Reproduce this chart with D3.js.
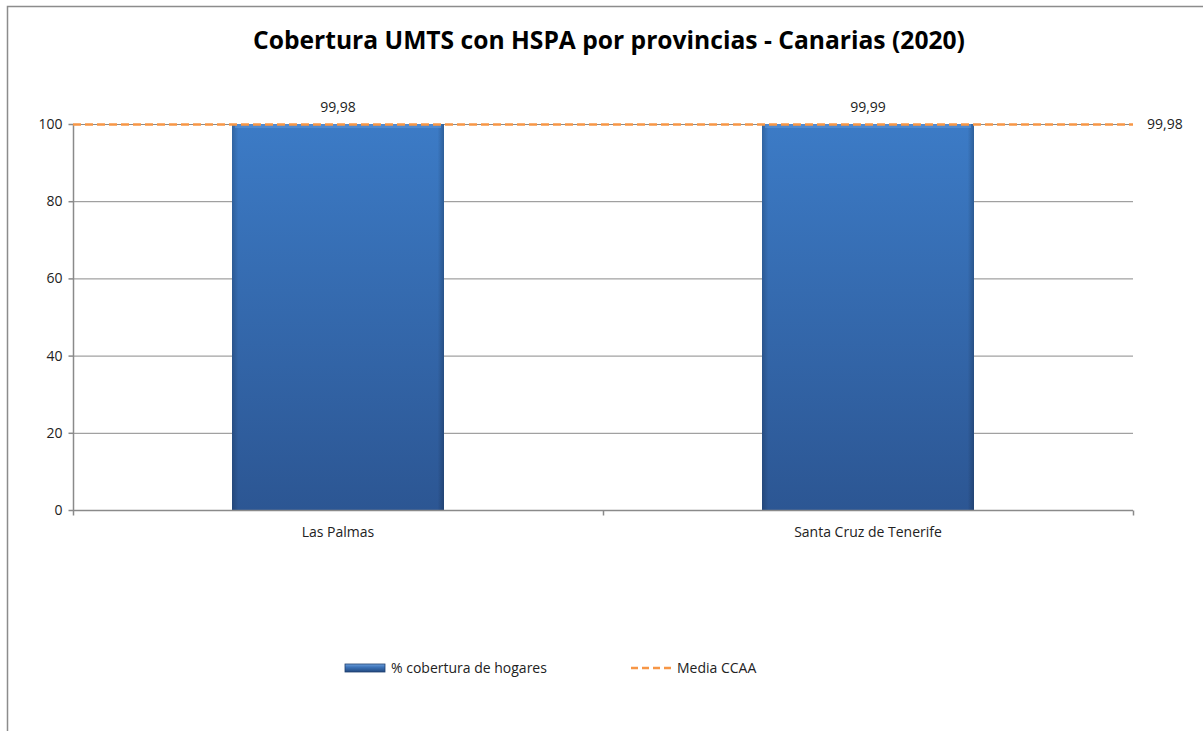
<!DOCTYPE html>
<html><head><meta charset="utf-8">
<script src="https://cdn.jsdelivr.net/npm/d3@7"></script>
<style>body{margin:0;background:#fff;} svg{display:block;}</style>
</head><body>
<svg id="c" width="1203" height="731"></svg>
<script>
const title = "Cobertura UMTS con HSPA por provincias - Canarias (2020)";
const categories = ["Las Palmas", "Santa Cruz de Tenerife"];
const coverage = [99.98, 99.99];
const mediaCCAA = 99.98;
const yTicks = [0, 20, 40, 60, 80, 100];
const seriesNames = ["% cobertura de hogares", "Media CCAA"];
const fmt = v => d3.format(".2f")(v).replace(".", ",");

const svg = d3.select("#c");
const font = "'Open Sans', 'Noto Sans', sans-serif";
const fs = 14;
const W = 1203, H = 731;
const m = {left: 73, right: 1133, top: 124, bottom: 510};

// frame
svg.append("rect").attr("x", 7.5).attr("y", 6.5).attr("width", W + 10).attr("height", H + 10)
  .attr("fill", "#fff").attr("stroke", "#8c8c8c").attr("stroke-width", 1.5);

const defs = svg.append("defs");
const g1 = defs.append("linearGradient").attr("id", "barGrad").attr("x1", 0).attr("y1", 0).attr("x2", 0).attr("y2", 1);
g1.append("stop").attr("offset", "0%").attr("stop-color", "#3c7bc6");
g1.append("stop").attr("offset", "100%").attr("stop-color", "#2c5693");
const g2 = defs.append("linearGradient").attr("id", "edgeGrad").attr("x1", 0).attr("y1", 0).attr("x2", 1).attr("y2", 0);
g2.append("stop").attr("offset", "0%").attr("stop-color", "#000").attr("stop-opacity", 0.18);
g2.append("stop").attr("offset", "3%").attr("stop-color", "#000").attr("stop-opacity", 0);
g2.append("stop").attr("offset", "97%").attr("stop-color", "#000").attr("stop-opacity", 0);
g2.append("stop").attr("offset", "100%").attr("stop-color", "#000").attr("stop-opacity", 0.22);
const g3 = defs.append("linearGradient").attr("id", "legGrad").attr("x1", 0).attr("y1", 0).attr("x2", 0).attr("y2", 1);
g3.append("stop").attr("offset", "0%").attr("stop-color", "#6fa0dc");
g3.append("stop").attr("offset", "40%").attr("stop-color", "#3c73b8");
g3.append("stop").attr("offset", "100%").attr("stop-color", "#234a80");

const x = d3.scaleBand().domain(categories).range([m.left, m.right]).paddingInner(0).paddingOuter(0);
const y = d3.scaleLinear().domain([0, 100]).range([m.bottom, m.top]);

// title
const t = svg.append("text").attr("x", 609).attr("y", 49).attr("text-anchor", "middle")
  .attr("font-family", font).attr("font-weight", "bold").attr("font-size", 26).attr("fill", "#000").text(title);
const tw = t.node().getComputedTextLength();
t.attr("font-size", 26 * 712 / tw);

// gridlines
svg.append("g").selectAll("line").data(yTicks.filter(d => d > 0)).join("line")
  .attr("x1", m.left).attr("x2", m.right).attr("y1", d => y(d) + 0.5).attr("y2", d => y(d) + 0.5)
  .attr("stroke", "#8a8a8a").attr("stroke-width", 1);

// y axis
const ya = svg.append("g").attr("transform", `translate(${m.left + 0.5},0)`)
  .call(d3.axisLeft(y).tickValues(yTicks).tickSize(5).tickPadding(6).tickFormat(d3.format("d")));
ya.select(".domain").attr("stroke", "#8a8a8a").attr("stroke-width", 1.5).attr("d", `M0,${m.top}V${m.bottom}`);
ya.selectAll(".tick line").attr("stroke", "#8a8a8a").attr("stroke-width", 1.5);
ya.selectAll(".tick text").attr("font-family", font).attr("font-size", fs).attr("fill", "#222");

// bars
const bw = x.bandwidth() * 0.4;
const bars = svg.append("g");
bars.selectAll("rect.bar").data(coverage).join("rect").attr("class", "bar")
  .attr("x", (d, i) => x(categories[i]) + (x.bandwidth() - bw) / 2)
  .attr("y", d => y(d)).attr("width", bw).attr("height", d => y(0) - y(d))
  .attr("fill", "url(#barGrad)");
bars.selectAll("rect.edge").data(coverage).join("rect").attr("class", "edge")
  .attr("x", (d, i) => x(categories[i]) + (x.bandwidth() - bw) / 2)
  .attr("y", d => y(d)).attr("width", bw).attr("height", d => y(0) - y(d))
  .attr("fill", "url(#edgeGrad)");
bars.selectAll("rect.top").data(coverage).join("rect").attr("class", "top")
  .attr("x", (d, i) => x(categories[i]) + (x.bandwidth() - bw) / 2 + 3)
  .attr("y", d => y(d)).attr("width", bw - 6).attr("height", 4)
  .attr("fill", "#5b95d8").attr("opacity", 0.6);

// value labels
svg.append("g").selectAll("text").data(coverage).join("text")
  .attr("x", (d, i) => x(categories[i]) + x.bandwidth() / 2).attr("y", d => y(d) - 12)
  .attr("text-anchor", "middle").attr("font-family", font).attr("font-size", fs).attr("fill", "#222")
  .text(d => fmt(d));

// x axis
const xa = svg.append("g").attr("transform", `translate(0,${m.bottom + 0.5})`);
xa.append("line").attr("x1", m.left).attr("x2", m.right).attr("stroke", "#8a8a8a").attr("stroke-width", 1.5);
const bounds = [m.left, ...categories.map(c => x(c) + x.bandwidth())];
xa.selectAll("line.tk").data(bounds).join("line").attr("class", "tk")
  .attr("x1", d => d + 0.5).attr("x2", d => d + 0.5).attr("y1", 0).attr("y2", 5)
  .attr("stroke", "#8a8a8a").attr("stroke-width", 1.5);
xa.selectAll("text").data(categories).join("text")
  .attr("x", d => x(d) + x.bandwidth() / 2).attr("y", 26).attr("text-anchor", "middle")
  .attr("font-family", font).attr("font-size", fs).attr("fill", "#222").text(d => d);

// media line
svg.append("line").attr("x1", m.left).attr("x2", m.right)
  .attr("y1", y(mediaCCAA) + 0.5).attr("y2", y(mediaCCAA) + 0.5)
  .attr("stroke", "#f79646").attr("stroke-width", 2.5).attr("stroke-dasharray", "8,4");
svg.append("text").attr("x", m.right + 14).attr("y", y(mediaCCAA) + 5)
  .attr("font-family", font).attr("font-size", fs).attr("fill", "#222").text(fmt(mediaCCAA));

// legend
const lg = svg.append("g");
lg.append("rect").attr("x", 345).attr("y", 664).attr("width", 40).attr("height", 8)
  .attr("fill", "url(#legGrad)").attr("stroke", "#1f3f6e").attr("stroke-width", 0.8);
lg.append("text").attr("x", 391).attr("y", 673).attr("font-family", font).attr("font-size", fs)
  .attr("fill", "#222").text(seriesNames[0]);
lg.append("line").attr("x1", 631).attr("x2", 675).attr("y1", 668).attr("y2", 668)
  .attr("stroke", "#f79646").attr("stroke-width", 2.5).attr("stroke-dasharray", "7,4");
lg.append("text").attr("x", 677).attr("y", 673).attr("font-family", font).attr("font-size", fs)
  .attr("fill", "#222").text(seriesNames[1]);
</script>
</body></html>
